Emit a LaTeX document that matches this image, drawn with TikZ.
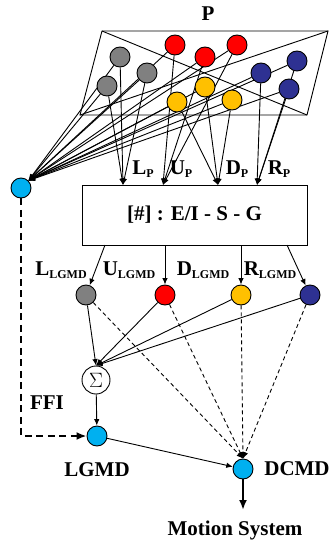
\documentclass[tikz,border=0pt]{standalone}
\usepackage{fontspec}
\setmainfont{Liberation Serif}
\usetikzlibrary{arrows.meta,backgrounds,positioning}
\definecolor{cellgray}{RGB}{128,128,128}
\definecolor{cellred}{RGB}{255,0,0}
\definecolor{cellamber}{RGB}{255,192,0}
\definecolor{cellnavy}{RGB}{46,49,146}
\definecolor{cellcyan}{RGB}{0,176,240}
\newcommand{\lowsub}[1]{\raisebox{-3.5pt}{\fontsize{12}{12}\selectfont #1}}
\tikzset{
  cell/.style={
    circle,
    draw,
    line width=.9pt,
    minimum size=20pt,
    inner sep=0pt
  },
  lbl/.style={
    inner sep=0pt,
    font=\fontsize{21}{24}\selectfont\bfseries
  },
  arrow/.style={
    -{Latex[length=6.5pt,width=5.5pt]},
    line width=.9pt
  },
  darrow/.style={
    arrow,
    dash pattern=on 4pt off 3pt
  },
  ffiline/.style={
    -{Latex[length=10pt,width=8pt]},
    line width=2pt,
    dash pattern=on 7pt off 4.5pt
  },
  motor/.style={
    -{Latex[length=10pt,width=8pt]},
    line width=2.2pt
  }
}

\begin{document}
\begin{tikzpicture}[x=1pt,y=-1pt]
\useasboundingbox (0,0) rectangle (331,541);
% photoreceptor layer
\draw[line width=.9pt] (102,31) -- (328,31) -- (307,115) -- (80,115) -- cycle;
\draw[line width=.9pt] (102,31) -- (307,115);
\draw[line width=.9pt] (328,31) -- (80,115);
\node[lbl] (p) at (208,14) {P};
\node[cell,fill=cellgray] (g1) at (120,57) {};
\node[cell,fill=cellgray] (g2) at (147,73) {};
\node[cell,fill=cellgray] (g3) at (107,86) {};
\node[cell,fill=cellred] (r1) at (175,45) {};
\node[cell,fill=cellred] (r2) at (205,57) {};
\node[cell,fill=cellred] (r3) at (237,45) {};
\node[cell,fill=cellamber] (y1) at (177,102) {};
\node[cell,fill=cellamber] (y2) at (205,87) {};
\node[cell,fill=cellamber] (y3) at (232,100) {};
\node[cell,fill=cellnavy] (b1) at (261,73) {};
\node[cell,fill=cellnavy] (b2) at (297,61) {};
\node[cell,fill=cellnavy] (b3) at (289,89) {};
\node[cell,fill=cellcyan] (ffi) at (21,188) {};
% direction box
\node[draw,line width=.9pt,minimum width=225pt,minimum height=60pt,lbl] (box) at (194.5,215) {[\#] : E/I - S - G};
\coordinate (inL) at (123,185);
\coordinate (inU) at (163,185);
\coordinate (inD) at (218,185);
\coordinate (inR) at (257,185);
\coordinate (oL) at (105,245);
\coordinate (oU) at (165,245);
\coordinate (oD) at (241,245);
\coordinate (oR) at (287,245);
\node[lbl] (lp) at (143,169) {L\lowsub{P}};
\node[lbl] (up) at (181,169) {U\lowsub{P}};
\node[lbl] (dp) at (237,169) {D\lowsub{P}};
\node[lbl] (rp) at (279,169) {R\lowsub{P}};
% LGMD cells
\node[cell,fill=cellgray] (lL) at (86,295) {};
\node[cell,fill=cellred] (lU) at (165,295) {};
\node[cell,fill=cellamber] (lD) at (241,295) {};
\node[cell,fill=cellnavy] (lR) at (310,295) {};
\node[lbl] (ll) at (61,270) {L\lowsub{LGMD}};
\node[lbl] (ul) at (129,270) {U\lowsub{LGMD}};
\node[lbl] (dl) at (203,270) {D\lowsub{LGMD}};
\node[lbl] (rl) at (270,270) {R\lowsub{LGMD}};
\node[cell,minimum size=28pt,fill=white] (sum) at (96,380) {\fontsize{20}{20}\selectfont$\Sigma$};
\node[cell,fill=cellcyan] (lgmd) at (97,436) {};
\node[cell,fill=cellcyan] (dcmd) at (243,469) {};
\coordinate (tip) at (243,510);
\node[lbl] (lgmdtxt) at (97,470) {LGMD};
\node[lbl] (dcmdtxt) at (297,469) {DCMD};
\node[lbl] (fftxt) at (47,403) {FFI};
\node[lbl] (ms) at (235,530) {Motion System};
\begin{scope}[on background layer]
\draw[arrow] (g1) -- (inL);
\draw[arrow] (g2) -- (inL);
\draw[arrow] (g3) -- (inL);
\draw[arrow] (r1) -- (inU);
\draw[arrow] (r2) -- (inU);
\draw[arrow] (r3) -- (inU);
\draw[arrow] (y1) -- (inD);
\draw[arrow] (y2) -- (inD);
\draw[arrow] (y3) -- (inD);
\draw[arrow] (b1) -- (inR);
\draw[arrow] (b2) -- (inR);
\draw[arrow] (b3) -- (inR);
\draw[arrow] (g1) -- (ffi.north east);
\draw[arrow] (g2) -- (ffi.north east);
\draw[arrow] (g3) -- (ffi.north east);
\draw[arrow] (r1) -- (ffi.north east);
\draw[arrow] (r2) -- (ffi.north east);
\draw[arrow] (r3) -- (ffi.north east);
\draw[arrow] (y1) -- (ffi.north east);
\draw[arrow] (y2) -- (ffi.north east);
\draw[arrow] (y3) -- (ffi.north east);
\draw[arrow] (b1) -- (ffi.north east);
\draw[arrow] (b2) -- (ffi.north east);
\draw[arrow] (b3) -- (ffi.north east);
\draw[arrow] (lL) -- (sum.north);
\draw[arrow] (lU) -- (sum.north);
\draw[arrow] (lD) -- (sum.north);
\draw[arrow] (lR) -- (sum.north);
\draw[darrow] (lL) -- (dcmd.north);
\draw[darrow] (lU) -- (dcmd.north);
\draw[darrow] (lD) -- (dcmd.north);
\draw[darrow] (lR) -- (dcmd.north);
\end{scope}
\draw[arrow] (oL) -- (lL);
\draw[arrow] (oU) -- (lU);
\draw[arrow] (oD) -- (lD);
\draw[arrow] (oR) -- (lR);
\draw[arrow] (sum) -- (lgmd);
\draw[arrow] (lgmd) -- (dcmd);
\draw[ffiline] (ffi) |- (lgmd);
\draw[motor] (dcmd) -- (tip);
\end{tikzpicture}
\end{document}
